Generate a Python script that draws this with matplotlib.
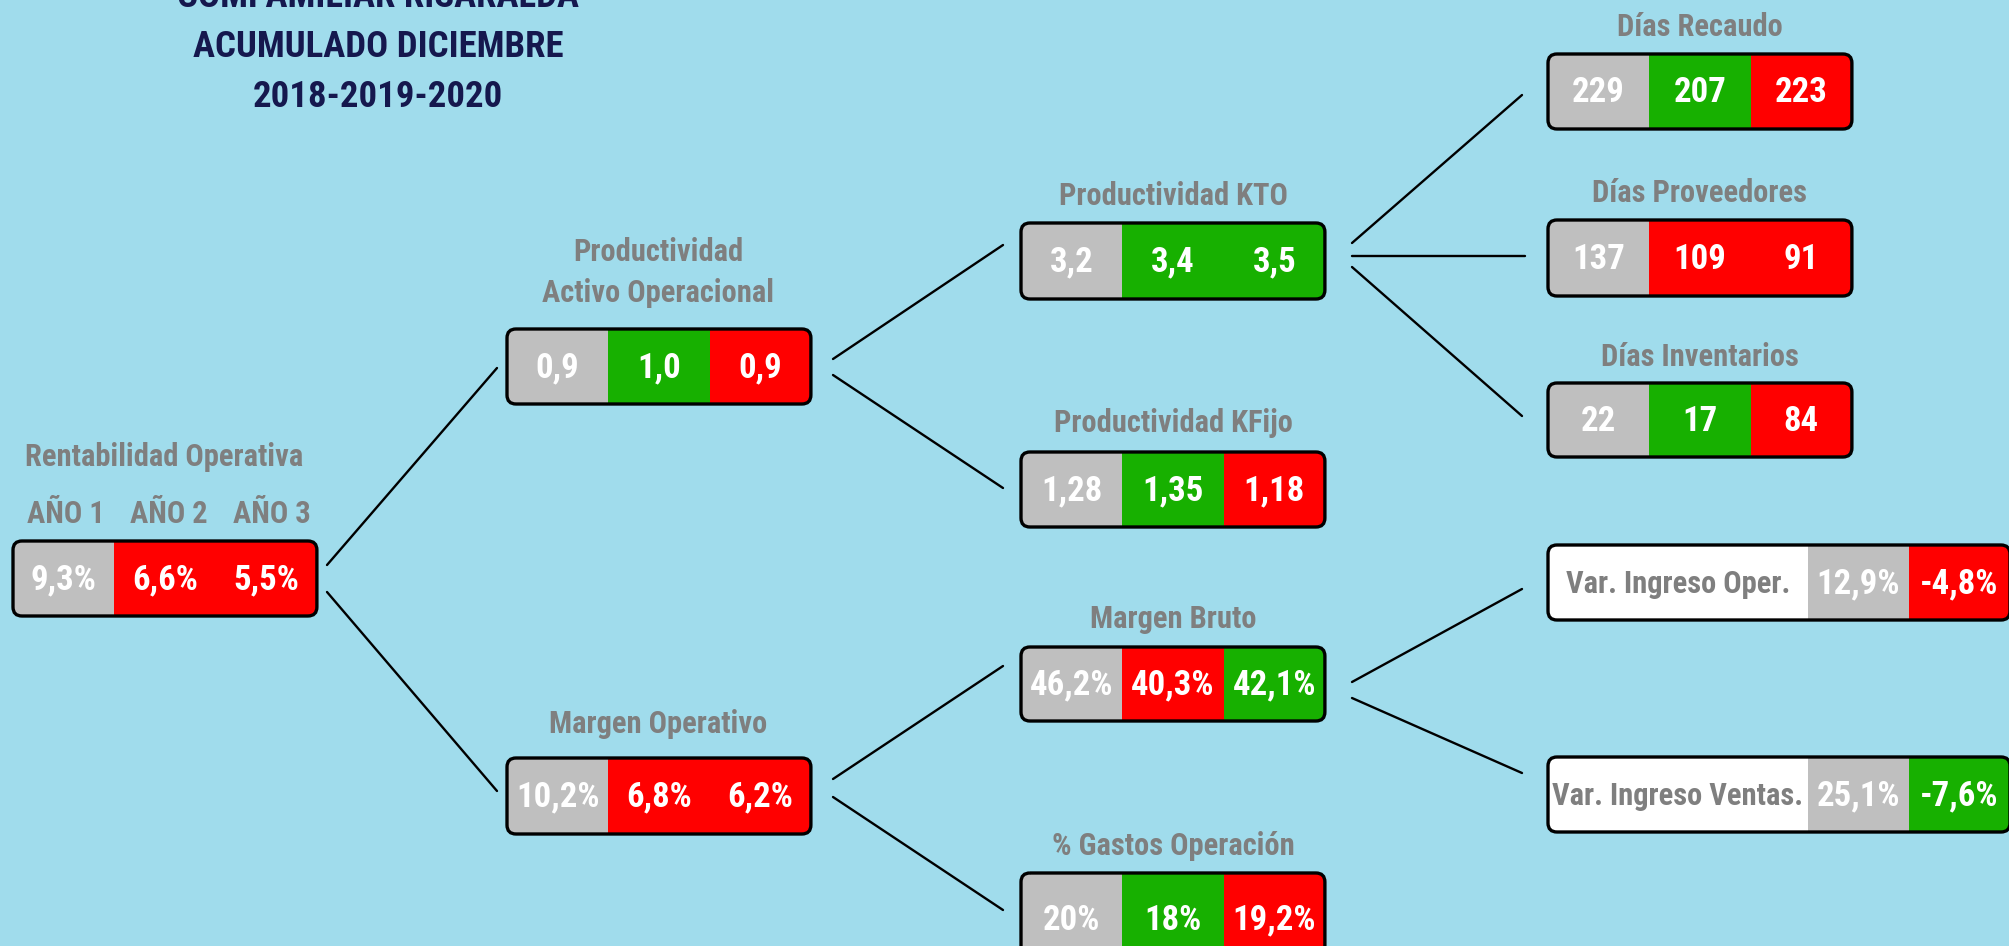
import matplotlib
matplotlib.use("Agg")
import matplotlib.pyplot as plt
from matplotlib.patches import FancyBboxPatch, Rectangle
from matplotlib import font_manager

# ---------------- data ----------------
title_lines = ["COMFAMILIAR RISARALDA", "ACUMULADO DICIEMBRE", "2018-2019-2020"]
year_labels = ["AÑO 1", "AÑO 2", "AÑO 3"]

rent_vals = ["9,3%", "6,6%", "5,5%"]
rent_state = ["base", "bad", "bad"]
pao_vals = ["0,9", "1,0", "0,9"]
pao_state = ["base", "good", "bad"]
mo_vals = ["10,2%", "6,8%", "6,2%"]
mo_state = ["base", "bad", "bad"]
kto_vals = ["3,2", "3,4", "3,5"]
kto_state = ["base", "good", "good"]
kfijo_vals = ["1,28", "1,35", "1,18"]
kfijo_state = ["base", "good", "bad"]
mb_vals = ["46,2%", "40,3%", "42,1%"]
mb_state = ["base", "bad", "good"]
gastos_vals = ["20%", "18%", "19,2%"]
gastos_state = ["base", "good", "bad"]
recaudo_vals = ["229", "207", "223"]
recaudo_state = ["base", "good", "bad"]
prov_vals = ["137", "109", "91"]
prov_state = ["base", "bad", "bad"]
inv_vals = ["22", "17", "84"]
inv_state = ["base", "good", "bad"]
var_oper_vals = ["12,9%", "-4,8%"]
var_oper_state = ["base", "bad"]
var_ventas_vals = ["25,1%", "-7,6%"]
var_ventas_state = ["base", "good"]

# ---------------- style ----------------
BG = "#A0DCEC"
COL = {"base": "#BFBFBF", "good": "#17B000", "bad": "#FF0000", "white": "#FFFFFF"}
LABEL_C = "#7F7F7F"
TITLE_C = "#15184E"

names = {f.name for f in font_manager.fontManager.ttflist}
FAM = [f for f in ["Roboto Condensed", "Liberation Sans Narrow", "Roboto", "DejaVu Sans"]
       if f in names] or ["DejaVu Sans"]
if "DejaVu Sans" not in FAM:
    FAM.append("DejaVu Sans")
NARROW = FAM[0] in ("Roboto Condensed", "Liberation Sans Narrow")
K = 1.0 if NARROW else 0.88  # size factor

LBL = 22
VAL = 25

W, H = 2009, 946
fig = plt.figure(figsize=(W / 100, H / 100), dpi=100)
fig.patch.set_facecolor(BG)
ax = fig.add_axes([0, 0, 1, 1])
ax.set_xlim(0, W)
ax.set_ylim(H, 0)
ax.axis("off")
ax.set_facecolor(BG)


def txt(x, y, s, size, color, **kw):
    ax.text(x, y, s, fontsize=size * K, color=color, fontweight="bold",
            family=FAM, ha="center", va="center", **kw)


def box(x0, y0, y1, vals, states, seg_w=101.3, first_text=None, first_w=0):
    widths = ([first_w] if first_text else []) + [seg_w] * len(vals)
    total = sum(widths)
    border = FancyBboxPatch((x0, y0), total, y1 - y0,
                            boxstyle="round,pad=0,rounding_size=9",
                            facecolor="none", edgecolor="black", lw=2.4, zorder=4)
    clip = FancyBboxPatch((x0, y0), total, y1 - y0,
                          boxstyle="round,pad=0,rounding_size=9",
                          facecolor="none", edgecolor="none")
    ax.add_patch(clip)
    ax.add_patch(border)
    x = x0
    yc = (y0 + y1) / 2 + 1
    if first_text:
        r = Rectangle((x, y0), first_w, y1 - y0, facecolor=COL["white"], lw=0, zorder=2)
        ax.add_patch(r)
        r.set_clip_path(clip)
        txt(x + first_w / 2, yc, first_text, 22, LABEL_C, zorder=5)
        x += first_w
    for v, s in zip(vals, states):
        r = Rectangle((x, y0), seg_w, y1 - y0, facecolor=COL[s], lw=0, zorder=2)
        ax.add_patch(r)
        r.set_clip_path(clip)
        txt(x + seg_w / 2, yc, v, VAL, "white", zorder=5)
        x += seg_w
    return x0, total


# title
for i, line in enumerate(title_lines):
    txt(378, -3 + 50 * i, line, 26.5, TITLE_C)

# connectors
lines = [
    ((327, 565), (497, 368)), ((327, 592), (497, 791)),
    ((833, 359), (1003, 245)), ((833, 375), (1003, 488)),
    ((833, 779), (1003, 666)), ((833, 797), (1003, 910)),
    ((1352, 243), (1522, 95)), ((1352, 256), (1525, 256)), ((1352, 267), (1522, 416)),
    ((1352, 682), (1522, 589)), ((1352, 698), (1522, 773)),
]
for (xa, ya), (xb, yb) in lines:
    ax.plot([xa, xb], [ya, yb], color="black", lw=1.7, solid_capstyle="round")

# root
box(13, 541, 616, rent_vals, rent_state)
txt(164, 457, "Rentabilidad Operativa", LBL, LABEL_C)
for i, yl in enumerate(year_labels):
    txt(66 + 103 * i, 514, yl, LBL, LABEL_C)

# level 2
box(507, 329, 404, pao_vals, pao_state)
txt(658, 252, "Productividad", LBL, LABEL_C)
txt(658, 293, "Activo Operacional", LBL, LABEL_C)
box(507, 758, 834, mo_vals, mo_state)
txt(658, 724, "Margen Operativo", LBL, LABEL_C)

# level 3
box(1021, 223, 299, kto_vals, kto_state)
txt(1173, 196, "Productividad KTO", LBL, LABEL_C)
box(1021, 452, 527, kfijo_vals, kfijo_state)
txt(1173, 423, "Productividad KFijo", LBL, LABEL_C)
box(1021, 647, 721, mb_vals, mb_state)
txt(1173, 619, "Margen Bruto", LBL, LABEL_C)
box(1021, 873, 965, gastos_vals, gastos_state)
txt(1173, 846, "% Gastos Operación", LBL, LABEL_C)

# level 4
box(1548, 54, 129, recaudo_vals, recaudo_state)
txt(1700, 27, "Días Recaudo", LBL, LABEL_C)
box(1548, 220, 296, prov_vals, prov_state)
txt(1700, 193, "Días Proveedores", LBL, LABEL_C)
box(1548, 383, 457, inv_vals, inv_state)
txt(1700, 357, "Días Inventarios", LBL, LABEL_C)

box(1548, 545, 620, var_oper_vals, var_oper_state, seg_w=101,
    first_text="Var. Ingreso Oper.", first_w=260)
box(1548, 757, 832, var_ventas_vals, var_ventas_state, seg_w=101,
    first_text="Var. Ingreso Ventas.", first_w=260)

fig.savefig("out.png", dpi=100, facecolor=BG)
